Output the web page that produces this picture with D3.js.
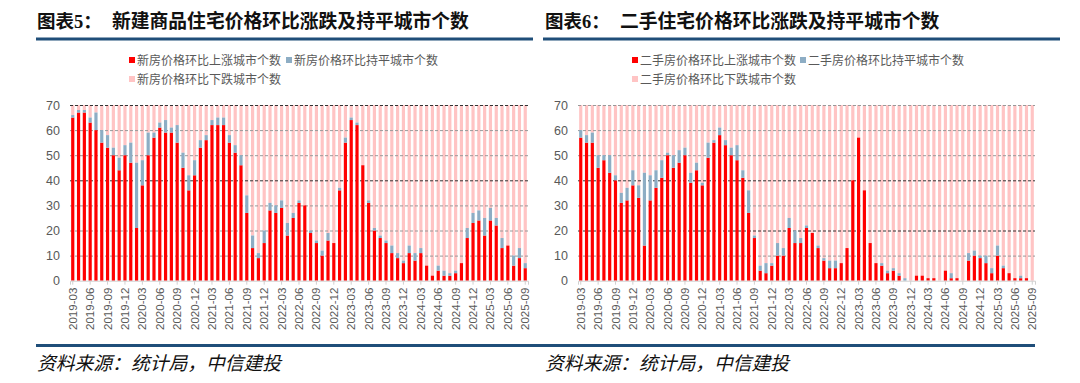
<!DOCTYPE html>
<html><head><meta charset="utf-8">
<script src="https://cdn.jsdelivr.net/npm/d3@7"></script>
<style>
html,body{margin:0;padding:0;background:#fff;}
svg{display:block;}
</style></head>
<body>
<svg id="chart" width="1080" height="383"></svg>
<script>
const months = ["2019-03","2019-04","2019-05","2019-06","2019-07","2019-08","2019-09","2019-10","2019-11","2019-12",
"2020-01","2020-02","2020-03","2020-04","2020-05","2020-06","2020-07","2020-08","2020-09","2020-10","2020-11","2020-12",
"2021-01","2021-02","2021-03","2021-04","2021-05","2021-06","2021-07","2021-08","2021-09","2021-10","2021-11","2021-12",
"2022-01","2022-02","2022-03","2022-04","2022-05","2022-06","2022-07","2022-08","2022-09","2022-10","2022-11","2022-12",
"2023-01","2023-02","2023-03","2023-04","2023-05","2023-06","2023-07","2023-08","2023-09","2023-10","2023-11","2023-12",
"2024-01","2024-02","2024-03","2024-04","2024-05","2024-06","2024-07","2024-08","2024-09","2024-10","2024-11","2024-12",
"2025-01","2025-02","2025-03","2025-04","2025-05","2025-06","2025-07","2025-08","2025-09"];

const tickLabels = ["2019-03","2019-06","2019-09","2019-12","2020-03","2020-06","2020-09","2020-12",
"2021-03","2021-06","2021-09","2021-12","2022-03","2022-06","2022-09","2022-12","2023-03","2023-06",
"2023-09","2023-12","2024-03","2024-06","2024-09","2024-12","2025-03","2025-06","2025-09"];

const yTicks = [0,10,20,30,40,50,60,70];
const cityTotal = 70;

// 新建商品住宅
const newUp = [65,67,67,63,60,55,53,50,44,50,47,21,38,50,57,61,59,59,55,45,36,42,53,56,62,62,62,55,51,
46,27,13,9,15,28,27,29,18,25,31,30,19,15,10,16,15,36,55,64,62,46,31,20,17,15,11,9,7,11,8,
11,6,2,4,2,2,3,7,17,23,24,18,24,22,13,14,6,9,5];
const newFlat = [1,1,1,2,7,5,5,3,5,4,8,26,10,9,2,2,5,2,7,6,6,6,3,2,2,3,3,3,3,
4,7,5,2,5,3,3,3,5,2,1,0,1,1,2,3,0,1,2,1,1,0,1,1,1,1,3,2,1,3,3,
2,0,0,2,2,1,1,0,4,4,4,7,5,3,4,0,4,4,2];

// 二手住宅
const usedUp = [57,55,55,45,48,43,40,31,32,38,33,14,32,37,41,50,45,47,50,39,44,38,49,55,58,54,50,48,41,27,17,4,3,6,10,10,21,15,
15,21,19,13,8,5,5,7,13,40,57,36,15,7,6,3,4,2,0,0,2,2,1,1,0,4,1,1,0,8,10,9,7,3,10,5,3,1,1,1,0];
const usedFlat = [3,3,4,5,2,7,2,4,5,6,5,29,10,7,7,1,5,5,3,4,3,1,6,1,3,2,3,6,3,9,1,2,4,1,5,3,4,5,
2,1,0,1,1,3,3,0,0,0,0,0,0,0,1,1,1,1,1,0,0,0,0,0,0,0,2,0,0,3,2,1,3,2,4,1,0,0,1,0,0];

const newLegend = ["新房价格环比上涨城市个数","新房价格环比持平城市个数","新房价格环比下跌城市个数"];
const usedLegend = ["二手房价格环比上涨城市个数","二手房价格环比持平城市个数","二手房价格环比下跌城市个数"];

const colors = ["#FF0000","#8DADC4","#FFC4C4"];
const CJK = "'Noto Sans CJK SC','Noto Sans',sans-serif";
const LAT = "'Liberation Sans',Arial,sans-serif";

const svg = d3.select("#chart");

function panel(opt){
  const g = svg.append("g");
  const rows = months.map((m,i)=>({m, up:opt.up[i], flat:opt.flat[i], down: cityTotal - opt.up[i] - opt.flat[i]}));
  const x = d3.scaleBand().domain(months).range([opt.x0, opt.x1]).paddingInner(0.45).paddingOuter(0.2);
  const y = d3.scaleLinear().domain([0,70]).range([280.7,105]);
  const stack = d3.stack().keys(["up","flat","down"])(rows);

  // title
  const t = g.append("text").attr("x", opt.tx).attr("y", 28).attr("font-size", 18.5)
    .attr("font-weight", "bold").attr("fill", "#111").attr("font-family", CJK);
  t.append("tspan").text("图表");
  t.append("tspan").attr("font-family","'Liberation Serif',serif").text(opt.num);
  t.append("tspan").text("：");
  g.append("text").attr("x", opt.tx2).attr("y", 28).attr("font-size", 18.8)
    .attr("font-weight","bold").attr("fill","#111").attr("font-family", CJK).text(opt.title);
  g.append("rect").attr("x", opt.rx0).attr("y", 37.5).attr("width", opt.rx1 - opt.rx0).attr("height", 3).attr("fill", "#1F4E79");

  // legend
  const lg = [[opt.lx, 61],[opt.lx2, 61],[opt.lx, 80]];
  opt.legend.forEach((s,i)=>{
    g.append("rect").attr("x", lg[i][0]).attr("y", lg[i][1]-4).attr("width", 6).attr("height", 6).attr("fill", colors[i]);
    g.append("text").attr("x", lg[i][0]+8).attr("y", lg[i][1]+4).attr("font-size", 12)
      .attr("fill", "#595959").attr("font-family", CJK).text(s);
  });

  // pink (down) layer first
  g.append("g").selectAll("rect").data(stack[2]).join("rect")
    .attr("x", d=>x(d.data.m)).attr("width", x.bandwidth())
    .attr("y", d=>y(d[1])).attr("height", d=>y(d[0])-y(d[1])).attr("fill", colors[2]);

  // gridlines
  g.append("g").selectAll("line").data(yTicks.filter(v=>v>0)).join("line")
    .attr("x1", opt.x0).attr("x2", opt.x1).attr("y1", d=>y(d)+0.5).attr("y2", d=>y(d)+0.5)
    .attr("stroke", d=> opt.dark.includes(d) ? "#333" : "#999")
    .attr("stroke-width", 1).attr("stroke-dasharray", "3,2");

  // up & flat
  [0,1].forEach(k=>{
    g.append("g").selectAll("rect").data(stack[k]).join("rect")
      .attr("x", d=>x(d.data.m)).attr("width", x.bandwidth())
      .attr("y", d=>y(d[1])).attr("height", d=>Math.max(0, y(d[0])-y(d[1]))).attr("fill", colors[k]);
  });

  // y axis labels
  const ya = g.append("g").attr("transform", `translate(${opt.x0},0)`)
    .call(d3.axisLeft(y).tickValues(yTicks).tickSize(0).tickPadding(10));
  ya.select(".domain").remove();
  ya.selectAll("text").attr("font-size", 12.5).attr("fill", "#595959").attr("font-family", LAT);

  // x axis
  const xa = g.append("g").attr("transform", `translate(0,280.7)`)
    .call(d3.axisBottom(x).tickValues(tickLabels).tickSize(4).tickPadding(3));
  xa.select(".domain").attr("stroke", "#d0d0d0");
  xa.selectAll(".tick line").attr("stroke", "#d0d0d0");
  xa.selectAll("text").attr("font-size", 11.5).attr("fill", "#595959").attr("font-family", LAT)
    .attr("transform", "rotate(-90)").attr("text-anchor", "end").attr("dy", "0.35em")
    .attr("x", -7).attr("y", 0);

  // source
  g.append("text").attr("x", opt.tx).attr("y", 370).attr("font-size", 18.8).attr("font-style","italic")
    .attr("fill", "#111").attr("font-family", CJK).text("资料来源：统计局，中信建投");
}

panel({x0:70, x1:528, tx:37, tx2:112, num:"5", title:"新建商品住宅价格环比涨跌及持平城市个数",
  rx0:36, rx1:533, lx:129, lx2:286, legend:newLegend, up:newUp, flat:newFlat, dark:[40,70]});
panel({x0:578, x1:1035, tx:545, tx2:620, num:"6", title:"二手住宅价格环比涨跌及持平城市个数",
  rx0:543, rx1:1060, lx:632, lx2:800, legend:usedLegend, up:usedUp, flat:usedFlat, dark:[20,40]});

// bottom rule
svg.append("rect").attr("x", 36).attr("y", 344).attr("width", 1035-36).attr("height", 3).attr("fill", "#1F4E79");
</script>
</body></html>
